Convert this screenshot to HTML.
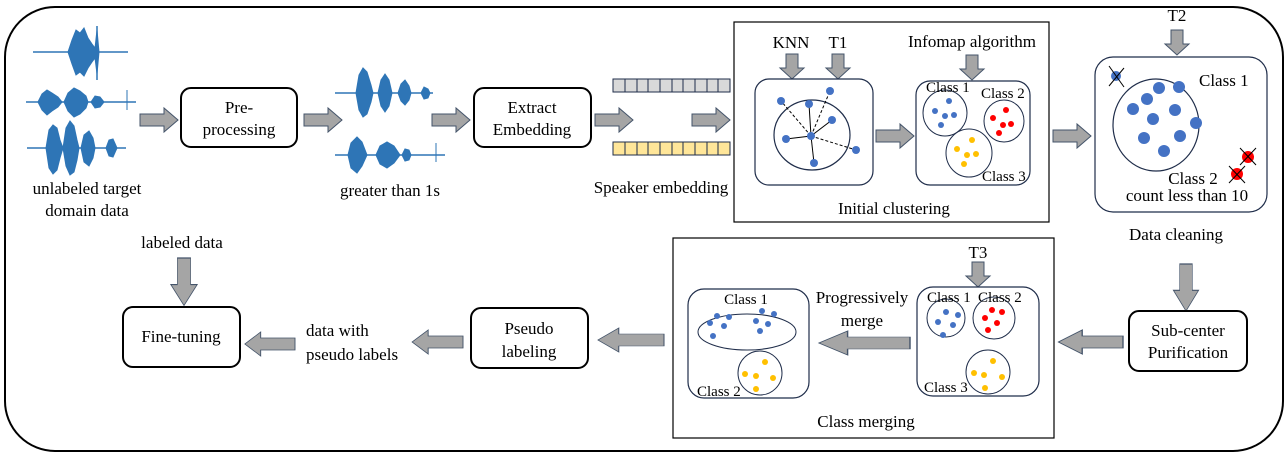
<!DOCTYPE html>
<html><head><meta charset="utf-8"><style>
html,body{margin:0;padding:0;background:#fff;}
svg{display:block;}
text{font-family:"Liberation Serif",serif;font-size:17px;fill:#000;}
</style></head><body>
<svg width="1288" height="455" viewBox="0 0 1288 455" xmlns="http://www.w3.org/2000/svg">
<defs>
<g id="ar"><polygon points="0,-6 24,-6 24,-12 38,0 24,12 24,6 0,6" fill="#a5a5a5" stroke="#44546a" stroke-width="1"/></g>
<g id="ad"><polygon points="-6,0 6,0 6,14 12,14 0,25 -12,14 -6,14" fill="#a5a5a5" stroke="#44546a" stroke-width="1"/></g>
</defs>
<rect x="5" y="7" width="1278" height="444" rx="50" ry="50" fill="none" stroke="#000" stroke-width="2"/>

<!-- waveforms -->
<g fill="#2e75b6" stroke="#2e75b6">
<line x1="33" y1="52" x2="128" y2="52" stroke-width="1.5"/>
<path d="M68 52 L72 40 L76 30 L80 33 L84 28 L88 38 L92 44 L95 48 L97 30 L99 52 L97 74 L95 58 L92 62 L88 68 L84 76 L80 72 L76 75 L72 64 Z" stroke-width="1"/>
<line x1="97" y1="26" x2="97" y2="80" stroke-width="1.5"/>
<line x1="26" y1="102" x2="136" y2="102" stroke-width="1.5"/>
<path d="M38 102 L42 94 L47 90 L52 93 L58 97 L62 102 L58 107 L52 111 L47 115 L42 110 Z M64 102 L68 93 L74 88 L80 91 L86 96 L88 102 L86 108 L80 114 L74 117 L68 111 Z M91 102 L95 96 L100 97 L104 102 L100 107 L95 108 Z"/>
<line x1="127" y1="90" x2="127" y2="110" stroke-width="1"/>
<line x1="27" y1="148" x2="126" y2="148" stroke-width="1.5"/>
<path d="M46 148 L49 130 L53 125 L57 128 L60 140 L63 148 L60 158 L57 170 L53 174 L49 168 Z M63 148 L66 128 L70 121 L74 126 L77 140 L79 148 L77 160 L74 172 L70 175 L66 166 Z M81 148 L84 135 L89 131 L93 138 L95 148 L93 158 L89 166 L84 162 Z M106 148 L109 140 L113 139 L117 148 L113 157 L109 156 Z"/>
<line x1="335" y1="93" x2="433" y2="93" stroke-width="1.5"/>
<path d="M356 93 L359 75 L363 68 L367 72 L371 85 L373 93 L371 102 L367 114 L363 117 L359 110 Z M378 93 L381 80 L385 74 L389 80 L392 93 L389 106 L385 112 L381 106 Z M398 93 L401 84 L405 80 L409 86 L411 93 L409 100 L405 105 L401 101 Z M421 93 L424 87 L428 89 L430 93 L428 98 L424 99 Z"/>
<line x1="335" y1="155" x2="445" y2="155" stroke-width="1.5"/>
<path d="M348 155 L351 143 L357 137 L362 142 L367 155 L362 166 L357 173 L351 168 Z M376 155 L380 146 L387 142 L394 146 L400 155 L394 163 L387 168 L380 164 Z M402 155 L405 149 L409 150 L411 155 L409 160 L405 161 Z"/>
<line x1="436" y1="143" x2="436" y2="162" stroke-width="1"/>
</g>
<text x="87" y="194" text-anchor="middle">unlabeled target</text>
<text x="87" y="216" text-anchor="middle">domain data</text>
<text x="390" y="196" text-anchor="middle">greater than 1s</text>

<!-- top boxes -->
<rect x="181" y="88" width="116" height="59" rx="10" fill="#fff" stroke="#000" stroke-width="2"/>
<text x="239" y="113" text-anchor="middle">Pre-</text><text x="239" y="135" text-anchor="middle">processing</text>
<rect x="474" y="88" width="117" height="59" rx="10" fill="#fff" stroke="#000" stroke-width="2"/>
<text x="532" y="113" text-anchor="middle">Extract</text><text x="532" y="135" text-anchor="middle">Embedding</text>
<use href="#ar" x="140" y="120"/><use href="#ar" x="304" y="120"/><use href="#ar" x="432" y="120"/>
<use href="#ar" x="595" y="120"/><use href="#ar" x="692" y="120"/>

<!-- embedding bars -->
<g stroke="#1f2d4a" stroke-width="1">
<rect x="613" y="79" width="117" height="13" fill="#d9d9d9"/>
<rect x="613" y="142" width="117" height="13" fill="#ffe699"/>
<path d="M625 79v13M637 79v13M648 79v13M660 79v13M672 79v13M683 79v13M695 79v13M707 79v13M718 79v13M625 142v13M637 142v13M648 142v13M660 142v13M672 142v13M683 142v13M695 142v13M707 142v13M718 142v13"/>
</g>
<text x="661" y="193" text-anchor="middle">Speaker embedding</text>

<!-- initial clustering -->
<rect x="734" y="22" width="315" height="200" fill="none" stroke="#000" stroke-width="1.2"/>
<text x="791" y="48" text-anchor="middle">KNN</text><text x="838" y="48" text-anchor="middle">T1</text>
<text x="972" y="47" text-anchor="middle">Infomap algorithm</text>
<use href="#ad" x="792" y="54"/><use href="#ad" x="838" y="54"/><use href="#ad" x="972" y="55"/>
<rect x="755" y="79" width="118" height="106" rx="14" fill="none" stroke="#1f2d4a" stroke-width="1.2"/>
<ellipse cx="812" cy="135" rx="38" ry="35" fill="none" stroke="#1f2d4a" stroke-width="1.2"/>
<g stroke="#000" stroke-width="1">
<line x1="811" y1="136" x2="781" y2="101" stroke-dasharray="3,2"/><line x1="811" y1="136" x2="809" y2="104"/>
<line x1="811" y1="136" x2="830" y2="91" stroke-dasharray="3,2"/><line x1="811" y1="136" x2="832" y2="120"/>
<line x1="811" y1="136" x2="786" y2="139"/><line x1="811" y1="136" x2="856" y2="150" stroke-dasharray="3,2"/>
<line x1="811" y1="136" x2="814" y2="163"/>
</g>
<g fill="#4472c4">
<circle cx="811" cy="136" r="4"/><circle cx="781" cy="101" r="4"/><circle cx="809" cy="104" r="4"/><circle cx="830" cy="91" r="4"/>
<circle cx="832" cy="120" r="4"/><circle cx="786" cy="139" r="4"/><circle cx="856" cy="150" r="4"/><circle cx="814" cy="163" r="4"/>
</g>
<use href="#ar" x="876" y="136"/>
<rect x="916" y="81" width="114" height="104" rx="14" fill="none" stroke="#1f2d4a" stroke-width="1.2"/>
<ellipse cx="945" cy="113" rx="22" ry="23" fill="#fff" stroke="#1f2d4a"/>
<ellipse cx="1004" cy="121" rx="20" ry="21" fill="#fff" stroke="#1f2d4a"/>
<ellipse cx="969" cy="153" rx="23" ry="24" fill="#fff" stroke="#1f2d4a"/>
<text x="926" y="92" style="font-size:15px">Class 1</text><text x="981" y="98" style="font-size:15px">Class 2</text><text x="982" y="181" style="font-size:15px">Class 3</text>
<g fill="#4472c4"><circle cx="949" cy="101" r="3"/><circle cx="935" cy="111" r="3"/><circle cx="945" cy="116" r="3"/><circle cx="954" cy="115" r="3"/><circle cx="941" cy="125" r="3"/></g>
<g fill="#ff0000"><circle cx="1006" cy="110" r="3"/><circle cx="993" cy="118" r="3"/><circle cx="1003" cy="125" r="3"/><circle cx="1011" cy="124" r="3"/><circle cx="999" cy="133" r="3"/></g>
<g fill="#ffc000"><circle cx="972" cy="140" r="3"/><circle cx="957" cy="149" r="3"/><circle cx="967" cy="155" r="3"/><circle cx="976" cy="154" r="3"/><circle cx="964" cy="164" r="3"/></g>
<text x="894" y="214" text-anchor="middle">Initial clustering</text>
<use href="#ar" x="1053" y="136"/>

<!-- data cleaning -->
<text x="1177" y="21" text-anchor="middle">T2</text>
<use href="#ad" x="1177" y="30"/>
<rect x="1095" y="57" width="172" height="155" rx="18" fill="none" stroke="#1f2d4a" stroke-width="1.2"/>
<ellipse cx="1156" cy="125" rx="43" ry="46" fill="none" stroke="#1f2d4a" stroke-width="1.2"/>
<g fill="#4472c4">
<circle cx="1159" cy="88" r="6"/><circle cx="1179" cy="87" r="6"/><circle cx="1147" cy="99" r="6"/><circle cx="1133" cy="109" r="6"/>
<circle cx="1175" cy="110" r="6"/><circle cx="1153" cy="119" r="6"/><circle cx="1196" cy="123" r="6"/><circle cx="1144" cy="138" r="6"/>
<circle cx="1180" cy="136" r="6"/><circle cx="1164" cy="151" r="6"/><circle cx="1116" cy="76" r="5"/>
</g>
<g fill="#ff0000"><circle cx="1248" cy="157" r="6"/><circle cx="1237" cy="174" r="6"/></g>
<g stroke="#000" stroke-width="1">
<line x1="1109" y1="66" x2="1124" y2="87"/><line x1="1124" y1="68" x2="1109" y2="86"/>
<line x1="1240" y1="148" x2="1256" y2="165"/><line x1="1256" y1="148" x2="1240" y2="165"/>
<line x1="1229" y1="166" x2="1245" y2="183"/><line x1="1245" y1="166" x2="1229" y2="183"/>
</g>
<text x="1199" y="86">Class 1</text>
<text x="1193" y="184" text-anchor="middle">Class 2</text>
<text x="1187" y="201" text-anchor="middle">count less than 10</text>
<text x="1176" y="240" text-anchor="middle">Data cleaning</text>
<g transform="translate(1186,264) scale(1.05,1.88)"><polygon points="-6,0 6,0 6,14 12,14 0,25 -12,14 -6,14" fill="#a5a5a5" stroke="#44546a" stroke-width="0.6"/></g>
<rect x="1129" y="311" width="118" height="60" rx="10" fill="#fff" stroke="#000" stroke-width="2"/>
<text x="1188" y="336" text-anchor="middle">Sub-center</text><text x="1188" y="358" text-anchor="middle">Purification</text>
<g transform="translate(1123,342) scale(-1.7,1)"><polygon points="0,-6 24,-6 24,-12 38,0 24,12 24,6 0,6" fill="#a5a5a5" stroke="#44546a" stroke-width="0.8"/></g>

<!-- class merging -->
<rect x="673" y="238" width="381" height="200" fill="none" stroke="#000" stroke-width="1.2"/>
<text x="978" y="258" text-anchor="middle">T3</text>
<use href="#ad" x="978" y="262"/>
<rect x="917" y="287" width="122" height="109" rx="16" fill="none" stroke="#1f2d4a" stroke-width="1.2"/>
<circle cx="946" cy="318" r="19" fill="#fff" stroke="#1f2d4a"/>
<circle cx="994" cy="318" r="21" fill="#fff" stroke="#1f2d4a"/>
<circle cx="988" cy="372" r="22" fill="#fff" stroke="#1f2d4a"/>
<text x="927" y="302" style="font-size:15px">Class 1</text><text x="978" y="302" style="font-size:15px">Class 2</text><text x="924" y="392" style="font-size:15px">Class 3</text>
<g fill="#4472c4"><circle cx="946" cy="312" r="3"/><circle cx="958" cy="315" r="3"/><circle cx="938" cy="322" r="3"/><circle cx="953" cy="325" r="3"/><circle cx="943" cy="335" r="3"/></g>
<g fill="#ff0000"><circle cx="992" cy="310" r="3"/><circle cx="1002" cy="312" r="3"/><circle cx="985" cy="318" r="3"/><circle cx="997" cy="323" r="3"/><circle cx="988" cy="330" r="3"/></g>
<g fill="#ffc000"><circle cx="993" cy="361" r="3"/><circle cx="974" cy="373" r="3"/><circle cx="984" cy="375" r="3"/><circle cx="1002" cy="377" r="3"/><circle cx="985" cy="388" r="3"/></g>
<text x="862" y="303" text-anchor="middle">Progressively</text><text x="862" y="326" text-anchor="middle">merge</text>
<g transform="translate(910,343) scale(-2.4,1)"><polygon points="0,-6 26,-6 26,-12 38,0 26,12 26,6 0,6" fill="#a5a5a5" stroke="#44546a" stroke-width="0.6"/></g>
<rect x="688" y="289" width="121" height="109" rx="16" fill="none" stroke="#1f2d4a" stroke-width="1.2"/>
<ellipse cx="747" cy="332" rx="49" ry="18" fill="#fff" stroke="#1f2d4a"/>
<circle cx="760" cy="373" r="22" fill="#fff" stroke="#1f2d4a"/>
<text x="746" y="304" text-anchor="middle" style="font-size:15px">Class 1</text>
<text x="697" y="396" style="font-size:15px">Class 2</text>
<g fill="#4472c4"><circle cx="717" cy="316" r="3"/><circle cx="729" cy="317" r="3"/><circle cx="710" cy="323" r="3"/><circle cx="724" cy="326" r="3"/><circle cx="713" cy="336" r="3"/>
<circle cx="762" cy="311" r="3"/><circle cx="774" cy="314" r="3"/><circle cx="756" cy="321" r="3"/><circle cx="768" cy="324" r="3"/><circle cx="760" cy="331" r="3"/></g>
<g fill="#ffc000"><circle cx="765" cy="362" r="3"/><circle cx="745" cy="374" r="3"/><circle cx="756" cy="376" r="3"/><circle cx="773" cy="378" r="3"/><circle cx="756" cy="389" r="3"/></g>
<text x="866" y="427" text-anchor="middle">Class merging</text>
<g transform="translate(664,340) scale(-1.74,1)"><polygon points="0,-6 26,-6 26,-12 38,0 26,12 26,6 0,6" fill="#a5a5a5" stroke="#44546a" stroke-width="0.6"/></g>

<!-- bottom left -->
<rect x="471" y="308" width="117" height="60" rx="10" fill="#fff" stroke="#000" stroke-width="2"/>
<text x="529" y="334" text-anchor="middle">Pseudo</text><text x="529" y="357" text-anchor="middle">labeling</text>
<g transform="translate(463,342) scale(-1.34,1)"><polygon points="0,-6 26,-6 26,-12 38,0 26,12 26,6 0,6" fill="#a5a5a5" stroke="#44546a" stroke-width="0.7"/></g>
<text x="306" y="336">data with</text><text x="306" y="360">pseudo labels</text>
<g transform="translate(295,344) scale(-1.32,1)"><polygon points="0,-6 26,-6 26,-12 38,0 26,12 26,6 0,6" fill="#a5a5a5" stroke="#44546a" stroke-width="0.7"/></g>
<rect x="123" y="307" width="117" height="60" rx="10" fill="#fff" stroke="#000" stroke-width="2"/>
<text x="181" y="342" text-anchor="middle">Fine-tuning</text>
<text x="182" y="248" text-anchor="middle">labeled data</text>
<g transform="translate(184,258) scale(1.1,1.9)"><polygon points="-6,0 6,0 6,14 12,14 0,25 -12,14 -6,14" fill="#a5a5a5" stroke="#44546a" stroke-width="0.6"/></g>
</svg>
</body></html>
